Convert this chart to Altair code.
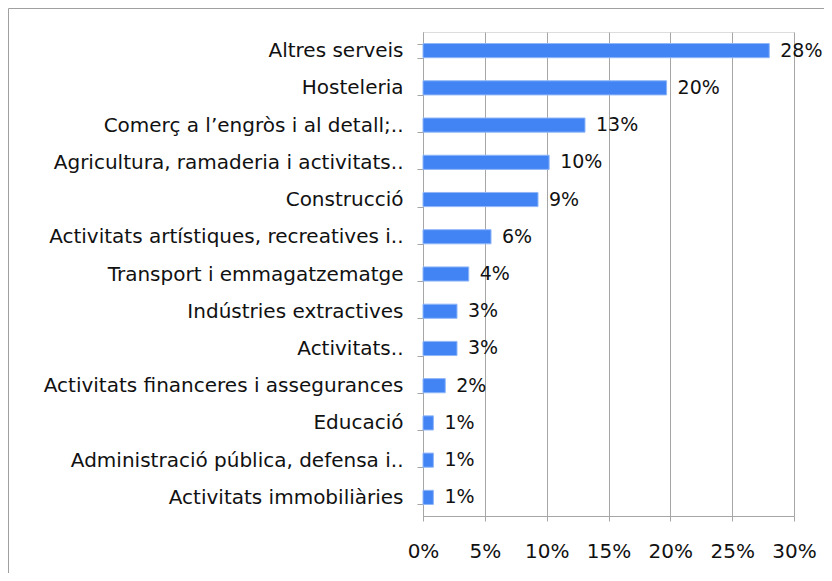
import altair as alt
import pandas as pd

title_text = "Gràfica 10. Sector d’activitat econòmica de les empreses"

categories = [
    "Altres serveis",
    "Hosteleria",
    "Comerç a l’engròs i al detall;..",
    "Agricultura, ramaderia i activitats..",
    "Construcció",
    "Activitats artístiques, recreatives i..",
    "Transport i emmagatzematge",
    "Indústries extractives",
    "Activitats..",
    "Activitats financeres i assegurances",
    "Educació",
    "Administració pública, defensa i..",
    "Activitats immobiliàries",
]
values = [28.0, 19.7, 13.1, 10.2, 9.3, 5.5, 3.7, 2.75, 2.75, 1.8, 0.84, 0.84, 0.84]
value_labels = ["28%", "20%", "13%", "10%", "9%", "6%", "4%", "3%", "3%", "2%", "1%", "1%", "1%"]
x_ticks = [0, 5, 10, 15, 20, 25, 30]

df = pd.DataFrame({"cat": categories, "val": values, "lab": value_labels})
frame_df = pd.DataFrame({"k": [0]})

FONT = "DejaVu Sans"
GRAY = "#a6a6a6"

y_enc = alt.Y(
    "cat:N",
    sort=categories,
    scale=alt.Scale(paddingInner=0.62, paddingOuter=0.31),
    axis=alt.Axis(
        title=None,
        labelFont=FONT,
        labelFontSize=20,
        labelColor="#111111",
        labelPadding=14,
        labelLimit=600,
        labelOverlap=False,
        tickBand="extent",
        tickSize=6,
        tickColor=GRAY,
        domainColor=GRAY,
        grid=False,
    ),
)
x_enc = alt.X(
    "val:Q",
    scale=alt.Scale(domain=[0, 30], nice=False, zero=True),
    axis=alt.Axis(
        title=None,
        values=x_ticks,
        labelExpr="datum.value + '%'",
        labelFont=FONT,
        labelFontSize=20,
        labelColor="#111111",
        labelPadding=20,
        labelOverlap=False,
        labelFlush=False,
        tickSize=5,
        tickColor=GRAY,
        domainColor=GRAY,
        grid=True,
        gridColor=GRAY,
        gridWidth=1,
    ),
)

frame = alt.Chart(frame_df).mark_rect(
    filled=False, stroke="#a0a0a0", strokeWidth=1
).encode(
    x=alt.value(-414.5), x2=alt.value(700),
    y=alt.value(-23.5), y2=alt.value(800),
)

bars = alt.Chart(df).mark_bar(
    color="#4284f3", stroke="#8fb6f8", strokeWidth=1
).encode(x=x_enc, y=y_enc)

text = alt.Chart(df).mark_text(
    align="left", baseline="middle", dx=11, font=FONT, fontSize=19, color="#111111"
).encode(
    x=alt.X("val:Q"),
    y=alt.Y("cat:N", sort=categories),
    text="lab:N",
)

chart = alt.layer(frame, bars, text).properties(
    width=371,
    height=484,
    title=alt.TitleParams(
        text=title_text, anchor="start", frame="group", orient="top",
        font=FONT, fontStyle="italic", fontWeight="normal", fontSize=17,
        color="#111111", dx=-418, offset=30,
    ),
    autosize=alt.AutoSizeParams(type="none"),
    padding={"left": 415, "top": 24, "right": 30, "bottom": 57},
).configure_view(stroke=None).configure(background="white")

chart.save("out.html", embed_options={"renderer": "svg", "actions": False})
